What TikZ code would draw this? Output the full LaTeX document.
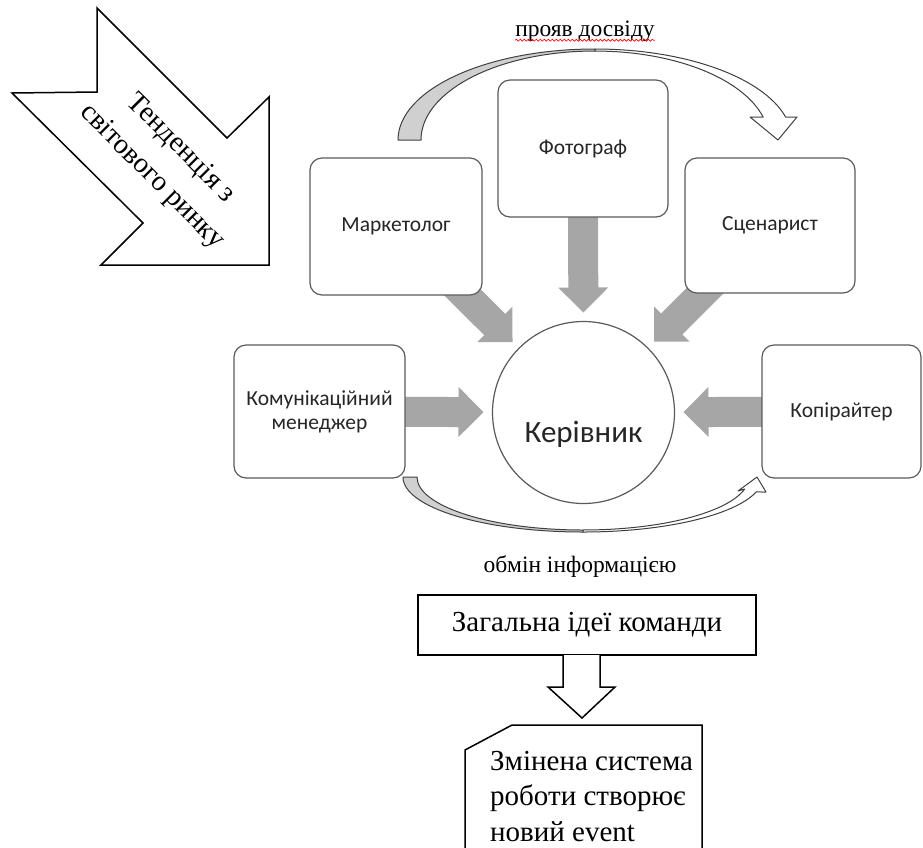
\documentclass[tikz,border=0pt]{standalone}
\usepackage{fontspec}
\setmainfont{Liberation Serif}
\newfontfamily\calibrifont{Carlito}
\usetikzlibrary{calc,backgrounds,decorations.pathmorphing}

\definecolor{boxline}{RGB}{90,90,90}
\definecolor{boxtext}{RGB}{38,38,38}
\definecolor{flowgray}{RGB}{166,166,166}
\definecolor{ribbongray}{RGB}{208,208,208}
\definecolor{ribbonline}{RGB}{64,64,64}

% thick grey block arrow: #1 = start point (hidden under a box), #2 = tip
\newcommand\flowarrow[2]{%
  \coordinate (hb) at ($(#2)!25pt!(#1)$);
  \fill[flowgray] ($(#1)!15pt!90:(#2)$) -- ($(hb)!15pt!90:(#2)$)
    -- ($(hb)!25pt!90:(#2)$) -- (#2) -- ($(hb)!25pt!-90:(#2)$)
    -- ($(hb)!15pt!-90:(#2)$) -- ($(#1)!15pt!-90:(#2)$) -- cycle;}

\begin{document}
\begin{tikzpicture}[x=1pt, y=-1pt,
  rolebox/.style={draw=boxline, line width=1.2pt, rounded corners=12pt, fill=white,
    text=boxtext, font=\calibrifont\fontsize{21.5}{24}\selectfont, align=center, inner sep=2pt},
  ribbon/.style={draw=ribbonline, line width=1pt, line join=round},
  outlined/.style={draw=black, line width=1.5pt, fill=white, line join=miter},
  serifbig/.style={font=\fontsize{29}{35.5}\selectfont},
  serifmid/.style={font=\fontsize{23.5}{28}\selectfont}]

\useasboundingbox (0,0) rectangle (923,847);
\clip (0,0) rectangle (923,847);

% team roles around the manager
\node[rolebox, minimum width=172pt, minimum height=137pt] (mk) at (396,226.5) {Маркетолог};
\node[rolebox, minimum width=170pt, minimum height=137pt] (ph) at (583,148.5) {Фотограф};
\node[rolebox, minimum width=170pt, minimum height=135pt] (sc) at (770,225.5) {Сценарист};
\node[rolebox, minimum width=171pt, minimum height=133pt] (cm) at (319.5,411.5) {Комунікаційний\\менеджер};
\node[rolebox, minimum width=159pt, minimum height=133pt] (cp) at (841.5,411.5) {Копірайтер};
\node[circle, draw=boxline, line width=1.2pt, fill=white, minimum size=182pt, inner sep=0pt] (boss) at (583.5,412.5) {};
\node[text=boxtext, font=\calibrifont\fontsize{31}{36}\selectfont] (bosslabel) at ([yshift=-22pt]boss.center) {Керівник};

\foreach \n in {mk,ph,sc,cm,cp}
  \coordinate (tip-\n) at ($(boss.center)!100pt!(\n.center)$);

\begin{scope}[on background layer]
  \fill[white] (0,0) rectangle (923,847);
  \foreach \n in {mk,ph,sc,cm,cp} {\flowarrow{\n.center}{tip-\n}}
\end{scope}

% curved ribbon arrow over the top row
\coordinate (topc) at (595,140);
\filldraw[ribbon, fill=ribbongray] ($(topc)+(-197,0)$)
  arc[start angle=180, end angle=270, x radius=197, y radius=91]
  -- ($(topc)+(0,-89)$)
  arc[start angle=270, end angle=180, x radius=174, y radius=89] -- cycle;
\filldraw[ribbon, fill=white] ($(topc)+(0,-91)$)
  arc[start angle=270, end angle=345.4, x radius=197, y radius=91]
  -- (797,117) -- (778,140) -- (750,117) -- ($(topc)+(168.1,-23)$)
  arc[start angle=345, end angle=270, x radius=174, y radius=89] -- cycle;
\node[serifmid, inner sep=0pt] (exp) at (585,31) {прояв досвіду};
\draw[red, line width=0.6pt, decorate, decoration={snake, amplitude=1pt, segment length=4pt}]
  ([yshift=-4pt]exp.base west) -- ([yshift=-4pt]exp.base east);

% curved ribbon arrow under the middle row
\coordinate (botc) at (583,477);
\filldraw[ribbon, fill=ribbongray] ($(botc)+(-180,0)$)
  arc[start angle=180, end angle=90, x radius=180, y radius=55]
  -- ($(botc)+(0,53)$)
  arc[start angle=90, end angle=180, x radius=166, y radius=53] -- cycle;
\filldraw[ribbon, fill=white] ($(botc)+(0,55)$)
  arc[start angle=90, end angle=15.8, x radius=180, y radius=55]
  -- (766,492) -- (757,477) -- (738,491) -- ($(botc)+(161.7,12)$)
  arc[start angle=13.1, end angle=90, x radius=166, y radius=53] -- cycle;
\node[serifmid] (info) at (580,567) {обмін інформацією};

% notched arrow with the market trend
\draw[outlined] (97,8) -- (227,138) -- (269,97) -- (269,265) -- (101,265)
  -- (143,223) -- (12,93) -- (97,92) -- cycle;
\node[rotate=-45, align=center, font=\fontsize{28.5}{40}\selectfont] (trend) at (166,163)
  {Тенденція з\\світового ринку};

% common idea and its result
\node[outlined, minimum width=338pt, minimum height=60pt, serifbig] (idea) at (587,625) {Загальна ідеї команди};
\coordinate (downtip) at (582,718);
\draw[outlined] (563,655) -- (563,687) -- (548,687) -- (downtip) -- (615,687) -- (600,687) -- (600,655);
\draw[outlined] (465,860) -- (465,750) -- (512,725) -- (702,725) -- (702,860);
\node[serifbig, align=left, anchor=base west, inner sep=0pt] (sys) at (490,841)
  {Змінена система\\роботи створює\\новий event};
\end{tikzpicture}
\end{document}
